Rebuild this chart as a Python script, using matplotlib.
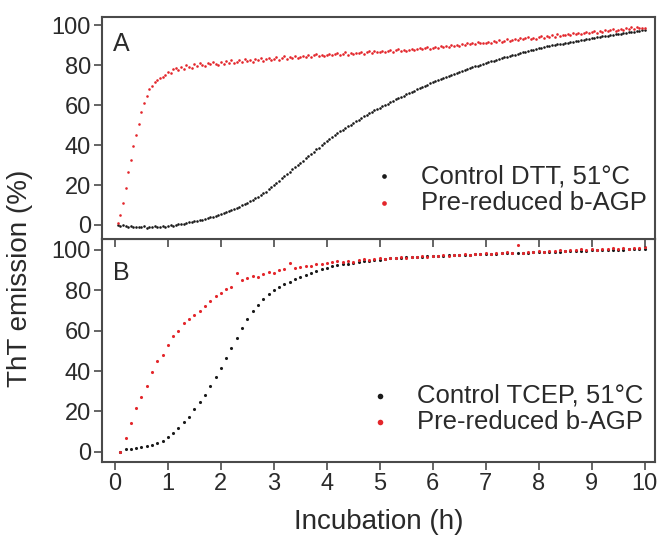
import matplotlib
matplotlib.use("Agg")
import matplotlib.pyplot as plt
import numpy as np

plt.rcParams['font.family'] = ['Liberation Sans', 'DejaVu Sans']

# Panel A: ThT emission (%), sampled every 0.05 h from 0.05 h
dt_a = 0.05
ctrl_dtt = [
    0.2, -0.3, 0.1, -0.6, -0.9, -0.4, -1.2, -0.8, -1.0, -1.1,
    -0.7, -1.3, -0.9, -1.0, -0.6, -1.1, -0.8, -0.5, -0.9, -0.4,
    -0.2, -0.5, 0.1, 0.3, 0.6, 0.4, 1.0, 1.3, 1.5, 1.9,
    2.0, 2.4, 2.6, 3.1, 3.3, 3.9, 4.2, 4.6, 5.1, 5.5,
    5.9, 6.4, 6.8, 7.5, 7.9, 8.6, 9.2, 9.8, 10.4, 11.0,
    11.8, 12.5, 13.3, 14.0, 15.0, 15.8, 16.7, 17.8, 18.9, 20.0,
    21.0, 22.2, 23.3, 24.4, 25.6, 26.5, 27.8, 28.9, 30.0, 31.0,
    32.2, 33.3, 34.5, 35.4, 36.6, 37.8, 38.7, 39.9, 41.0, 42.0,
    43.0, 44.0, 44.8, 45.9, 46.8, 47.5, 48.6, 49.3, 50.2, 51.0,
    51.9, 52.6, 53.4, 54.3, 54.9, 55.8, 56.4, 57.3, 57.9, 58.5,
    59.3, 60.0, 60.6, 61.4, 62.0, 62.8, 63.4, 64.1, 64.8, 65.5,
    66.0, 66.8, 67.3, 68.0, 68.5, 69.2, 69.8, 70.3, 71.0, 71.5,
    72.1, 72.5, 73.2, 73.6, 74.3, 74.7, 75.3, 75.7, 76.2, 76.5,
    77.1, 77.6, 78.0, 78.5, 78.9, 79.4, 79.8, 80.2, 80.7, 81.0,
    81.5, 81.9, 82.3, 82.6, 83.1, 83.4, 83.9, 84.2, 84.7, 85.0,
    85.3, 85.8, 86.0, 86.5, 86.8, 87.1, 87.5, 87.8, 88.2, 88.5,
    88.8, 89.0, 89.4, 89.6, 89.9, 90.2, 90.4, 90.7, 90.8, 91.0,
    91.3, 91.5, 91.8, 92.0, 92.3, 92.5, 92.8, 93.0, 93.3, 93.5,
    93.7, 93.9, 94.1, 94.4, 94.5, 94.8, 95.0, 95.1, 95.4, 95.5,
    95.8, 96.0, 96.1, 96.4, 96.6, 96.8, 97.0, 97.1, 97.4, 97.5,
]
prered_a = [
    1.0, 5.2, 10.8, 18.6, 26.3, 32.5, 39.4, 45.1, 50.6, 56.3,
    60.8, 64.7, 67.9, 69.6, 71.5, 72.4, 73.6, 74.1, 75.3, 76.8,
    76.2, 77.9, 78.6, 77.4, 79.2, 78.3, 80.1, 79.0, 78.8, 80.4,
    79.6, 81.3, 80.2, 79.7, 81.0, 80.5, 81.8, 80.6, 80.1, 81.4,
    80.8, 81.9, 81.2, 82.4, 81.0, 81.7, 82.6, 81.5, 82.9, 82.0,
    82.7, 81.8, 83.1, 82.4, 83.6, 82.2, 82.9, 83.8, 82.6, 83.3,
    83.9, 82.8, 83.4, 84.5, 83.2, 84.1, 83.6, 84.8, 83.5, 84.0,
    84.6, 83.9, 85.2, 84.3, 84.9, 85.6, 84.4, 85.1, 84.7, 85.3,
    85.8, 84.9, 85.5, 86.2, 85.1, 85.7, 86.4, 85.3, 86.0, 85.6,
    86.3, 85.9, 86.8, 85.8, 86.5, 87.1, 86.2, 86.9, 86.4, 86.8,
    87.3, 86.6, 87.0, 87.6, 86.8, 87.4, 87.9, 87.1, 87.6, 87.2,
    87.8, 88.3, 87.5, 88.1, 88.6, 87.9, 88.4, 89.0, 88.2, 88.7,
    89.2, 88.6, 89.5, 88.9, 89.8, 89.3, 90.1, 89.5, 90.3, 89.8,
    90.6, 90.0, 90.9, 90.4, 91.2, 90.6, 91.5, 90.9, 91.3, 91.0,
    91.7, 91.2, 92.1, 91.5, 92.6, 91.8, 92.3, 93.0, 92.2, 92.7,
    93.2, 92.5, 93.6, 92.9, 93.4, 94.1, 93.0, 93.8, 93.3, 93.9,
    94.4, 93.7, 94.8, 94.1, 95.0, 94.3, 95.4, 94.6, 95.2, 95.0,
    95.7, 94.9, 96.1, 95.4, 96.3, 95.6, 96.0, 96.8, 95.9, 96.4,
    96.9, 96.2, 97.3, 96.6, 97.6, 96.9, 97.4, 98.0, 97.2, 97.7,
    98.3, 97.5, 98.6, 98.0, 98.9, 98.2, 99.1, 98.5, 98.8, 98.6,
]

# Panel B: sampled every 0.1 h from 0.1 h
dt_b = 0.1
ctrl_tcep = [
    0.0, 1.6, 1.4, 2.0, 2.3, 3.0, 3.6, 4.4, 5.6, 7.4,
    9.3, 11.8, 14.6, 17.4, 21.0, 24.6, 28.4, 32.6, 37.0, 41.6,
    46.6, 51.6, 56.6, 61.4, 66.0, 69.8, 72.9, 75.7, 78.0, 79.9,
    81.4, 82.9, 84.2, 85.4, 86.6, 87.7, 88.6, 89.5, 90.4, 91.1,
    91.8, 92.3, 92.8, 93.2, 93.6, 93.9, 94.3, 94.6, 94.8, 95.1,
    95.7, 95.9, 96.0, 96.2, 96.3, 96.5, 96.6, 96.7, 96.8, 97.0,
    97.1, 97.2, 97.3, 97.4, 97.5, 97.6, 97.7, 97.8, 97.9, 98.0,
    98.1, 98.2, 98.3, 98.4, 98.4, 98.5, 98.6, 98.7, 98.8, 98.9,
    99.0, 99.0, 99.1, 99.2, 99.3, 99.3, 99.4, 99.5, 99.6, 99.7,
    99.8, 99.8, 99.9, 100.0, 100.0, 100.1, 100.2, 100.3, 100.3, 100.4,
]
prered_b = [
    0.0, 6.8, 14.5, 21.5, 27.0, 32.7, 39.5, 45.0, 48.0, 53.0,
    57.5, 60.0, 64.0, 66.0, 68.0, 69.8, 72.0, 74.5, 77.0, 78.5,
    80.8, 81.5, 88.6, 85.0, 86.0, 87.0, 86.5, 88.0, 89.0, 88.5,
    89.8, 90.5, 93.5, 91.0, 91.5, 92.2, 92.0, 93.0, 92.8, 93.5,
    93.8, 94.3, 93.9, 94.6, 94.2, 94.9, 95.3, 94.8, 95.4, 95.8,
    95.5, 96.1, 95.8, 96.4, 96.0, 96.7, 96.3, 96.9, 96.6, 97.2,
    96.9, 97.5, 97.1, 97.7, 97.3, 97.9, 97.6, 98.2, 97.8, 98.4,
    98.0, 98.6, 98.3, 98.8, 98.5, 102.5, 98.7, 99.2, 98.9, 99.4,
    99.1, 99.6, 99.3, 99.8, 99.5, 100.0, 99.7, 100.2, 99.9, 100.3,
    100.1, 100.5, 100.2, 100.7, 100.4, 100.9, 100.6, 101.0, 100.8, 101.2,
]

t_a = dt_a * np.arange(1, len(ctrl_dtt) + 1)
t_b = dt_b * np.arange(1, len(ctrl_tcep) + 1)

black = '#1a1a1a'
red = '#e3262b'
frame = '#4a4a4a'
txt = '#2a2a2a'

fig = plt.figure(figsize=(6.62, 5.45), dpi=100)
ax_b = fig.add_axes([0.154, 0.1523, 0.835, 0.4092])
ax_a = fig.add_axes([0.154, 0.5615, 0.835, 0.407])
ax_a.set_zorder(3)

ax_a.scatter(t_a, ctrl_dtt, s=3.5, color=black, lw=0, label='Control DTT, 51°C')
ax_a.scatter(t_a, prered_a, s=3.5, color=red, lw=0, label='Pre-reduced b-AGP')
ax_b.scatter(t_b, ctrl_tcep, s=5, color=black, lw=0, label='Control TCEP, 51°C')
ax_b.scatter(t_b, prered_b, s=5, color=red, lw=0, label='Pre-reduced b-AGP')

for ax in (ax_a, ax_b):
    ax.set_xlim(-0.245, 10.19)
    ax.set_xticks(range(0, 11))
    ax.set_yticks(range(0, 101, 20))
    ax.tick_params(direction='out', length=6, width=1.2, color=frame,
                   labelsize=17, labelcolor=txt, pad=2)
    for sp in ax.spines.values():
        sp.set_color(frame)
        sp.set_linewidth(1.5)

leg_kw = dict(frameon=False, fontsize=18.5, handlelength=1.0, handletextpad=0.94,
              markerscale=1.8, labelspacing=0.1, loc='lower right',
              borderpad=0, borderaxespad=0, labelcolor=txt)
ax_a.legend(bbox_to_anchor=(0.986, 0.11), **leg_kw)
ax_b.legend(bbox_to_anchor=(0.98, 0.125), **leg_kw)

ax_a.set_ylim(-7, 104)
ax_b.set_ylim(-5, 105.4)
ax_a.tick_params(axis='x', labelbottom=False)

ax_a.text(0.02, 0.847, 'A', transform=ax_a.transAxes, fontsize=18, color=txt)
ax_b.text(0.02, 0.816, 'B', transform=ax_b.transAxes, fontsize=18, color=txt)

ax_b.set_xlabel('Incubation (h)', fontsize=20, color=txt, labelpad=10)
fig.text(20 / 662, 1 - 278 / 545, 'ThT emission (%)', rotation=90, fontsize=20,
         color=txt, ha='center', va='center')

plt.savefig('out.png', dpi=100, facecolor='white')
